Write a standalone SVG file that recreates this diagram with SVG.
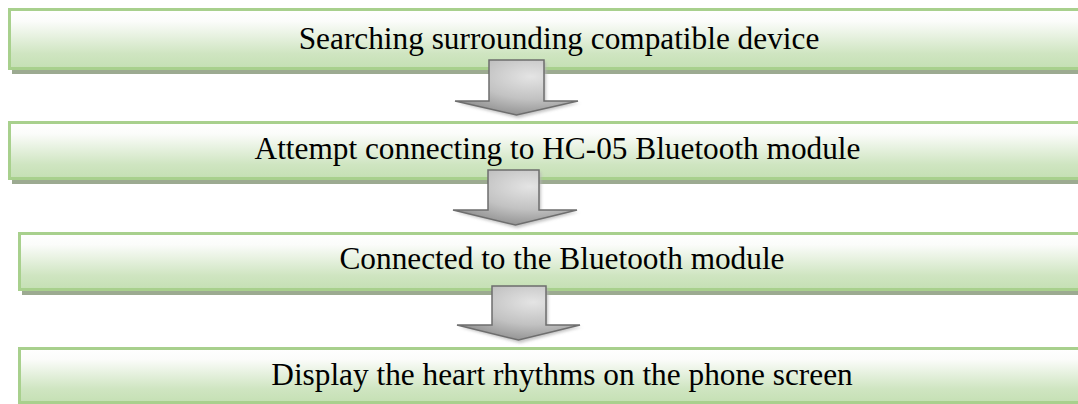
<svg xmlns="http://www.w3.org/2000/svg" width="1078" height="404" viewBox="0 0 1078 404">
<defs>
<linearGradient id="boxFill" x1="0" y1="0" x2="0" y2="1">
<stop offset="0" stop-color="#ffffff"/>
<stop offset="0.2" stop-color="#fbfcfa"/>
<stop offset="0.75" stop-color="#cfe5c1"/>
<stop offset="1" stop-color="#c5e0b4"/>
</linearGradient>
<radialGradient id="arrowFill" cx="0.62" cy="0.3" r="0.75">
<stop offset="0" stop-color="#e4e4e4"/>
<stop offset="0.55" stop-color="#c2c2c2"/>
<stop offset="1" stop-color="#8e8e8e"/>
</radialGradient>
<filter id="soft" x="-20%" y="-20%" width="140%" height="140%">
<feGaussianBlur stdDeviation="1.5"/>
</filter>
</defs>
<style>
.box{fill:url(#boxFill);stroke:#a8d08d;stroke-width:3}
.shadow{fill:#9caa91}
.label{font-family:"Liberation Serif","Times New Roman",serif;font-size:31.3px;fill:#000;text-anchor:middle}
.arrow{fill:url(#arrowFill);stroke:#6e6e6e;stroke-width:1.5;stroke-linejoin:miter}
.ashadow{fill:#b5b5b5;opacity:0.8}
</style>
<rect width="1078" height="404" fill="#ffffff"/>
<g id="node1">
<rect class="shadow" x="12" y="70" width="1100" height="4"/>
<rect class="box" x="9.5" y="9.5" width="1100" height="59"/>
<text class="label" x="559" y="49">Searching surrounding compatible device</text>
</g>
<g id="node2">
<rect class="shadow" x="12" y="180" width="1100" height="4"/>
<rect class="box" x="9.5" y="122.5" width="1100" height="56"/>
<text class="label" x="557.5" y="159">Attempt connecting to HC-05 Bluetooth module</text>
</g>
<g id="node3">
<rect class="shadow" x="22" y="291" width="1100" height="4"/>
<rect class="box" x="19.5" y="233.5" width="1100" height="56"/>
<text class="label" x="562" y="269">Connected to the Bluetooth module</text>
</g>
<g id="node4">
<rect class="shadow" x="22" y="404" width="1100" height="4"/>
<rect class="box" x="19.5" y="348.5" width="1100" height="54"/>
<text class="label" x="562" y="385">Display the heart rhythms on the phone screen</text>
</g>
<g id="connectors">
<path class="ashadow" filter="url(#soft)" d="M491,62 H546 V103 H580 L518,118 L457,103 H491 Z"/>
<path class="arrow" d="M489,60 H544 V101 H578 L516.5,115 L455,101 H489 Z"/>
<path class="ashadow" filter="url(#soft)" d="M490,172 H541 V212 H579 L517,228 L455,212 H490 Z"/>
<path class="arrow" d="M488,170 H539 V210 H577 L515.5,225 L453,210 H488 Z"/>
<path class="ashadow" filter="url(#soft)" d="M494,288 H548 V327 H582 L520,343 L459,327 H494 Z"/>
<path class="arrow" d="M492,286 H546 V325 H580 L518.5,340 L457,325 H492 Z"/>
</g>
</svg>
